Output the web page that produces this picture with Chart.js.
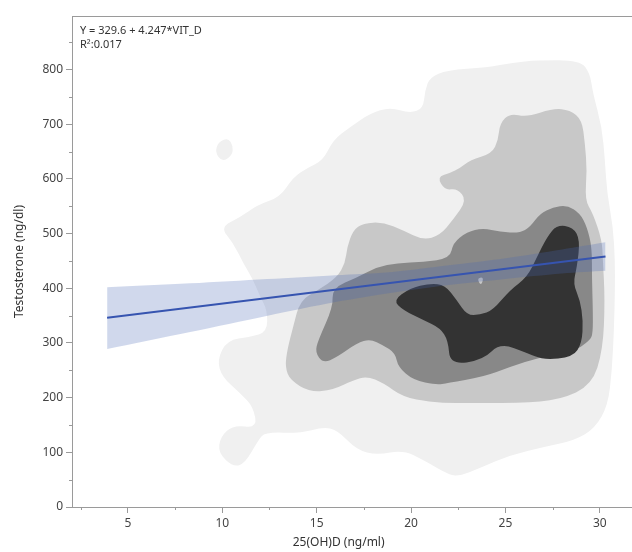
<!DOCTYPE html>
<html>
<head>
<meta charset="utf-8">
<script src="https://cdn.jsdelivr.net/npm/chart.js@4.4.1/dist/chart.umd.min.js"></script>
<style>
  html, body { margin: 0; padding: 0; background: #fff; }
  #wrap { width: 632px; height: 552px; }
</style>
</head>
<body>
<div id="wrap"><canvas id="chart"></canvas></div>
<script>
// ticks
const xMajorTicks = [5, 10, 15, 20, 25, 30];
const xMinorTicks = [2.5, 7.5, 12.5, 17.5, 22.5, 27.5];
const yMajorTicks = [0, 100, 200, 300, 400, 500, 600, 700, 800];
const yMinorTicks = [50, 150, 250, 350, 450, 550, 650, 750, 850];

// fitted line Y = 329.6 + 4.247*VIT_D, drawn over the data range
const fitX = [3.9, 30.3];
const fitY = [346, 458];

// confidence band
const bandX     = [3.9, 8.3, 12.4, 16.0, 19.0, 22.0, 25.0, 28.0, 30.3];
const bandUpper = [402, 409, 417, 424, 430, 442, 455, 471, 484];
const bandLower = [289, 320, 350, 375, 392, 406, 417, 427, 432];

// density contours, [vit_d, testosterone] vertices
const contourLight = [
  [9.89,512],[10.95,530],[11.85,552],[13.06,567],[13.75,603],[14.49,620],[15.34,634],
  [15.87,671],[16.77,695],[17.84,720],[18.89,731],[19.95,720],[20.64,729],[20.74,762],
  [21.0,786],[21.91,799],[24.02,804],[25.4,813],[26.67,817],[28.95,817],[29.48,793],
  [29.63,757],[30.11,695],[30.27,634],[30.38,574],[30.7,512],[30.8,452],[30.8,397],
  [30.75,324],[30.64,250],[30.43,186],[29.74,144],[28.68,122],[27.09,110],[25.24,95],
  [23.65,71],[22.59,57],[22.07,58],[20.64,86],[19.58,104],[18.2,95],[17.14,104],
  [16.08,141],[15.34,146],[14.12,135],[12.27,137],[11.9,122],[11.21,80],[10.58,73],
  [9.79,99],[9.89,128],[10.58,150],[11.85,144],[11.64,183],[10.95,208],[9.99,238],
  [9.73,269],[10.26,305],[11.48,311],[12.38,320],[12.38,360],[12.01,384],[11.64,415],
  [11.11,446],[10.58,483]
];
const contourLightIsle = [[9.79,667],[10.31,675],[10.58,660],[10.52,643],[9.99,631],[9.62,649]];
const contourMid = [
  [13.33,256],[13.44,287],[13.75,329],[14.12,378],[15.08,397],[16.08,420],[16.51,446],
  [16.61,475],[16.93,506],[17.46,519],[18.52,521],[19.58,506],[20.64,488],[21.54,497],
  [22.22,525],[22.96,561],[22.43,583],[21.8,579],[21.38,603],[22.07,611],[22.59,620],
  [23.12,634],[24.29,647],[24.61,671],[24.71,702],[25.24,720],[26.14,713],[27.52,729],
  [28.42,726],[29.05,708],[29.21,665],[29.32,616],[29.21,561],[29.63,537],[30.11,488],
  [30.16,452],[30.27,378],[30.16,287],[29.58,223],[27.89,196],[25.77,190],[22.07,190],
  [21.0,192],[19.58,201],[18.52,227],[17.67,239],[16.93,232],[15.87,214],[14.65,210],
  [13.59,232]
];
const contourHigh = [
  [15.87,366],[15.82,400],[17.14,420],[18.2,439],[19.26,446],[20.64,448],[22.07,455],
  [22.22,483],[22.96,503],[23.81,510],[24.71,503],[25.77,501],[26.3,512],[26.83,537],
  [27.52,548],[28.26,552],[28.95,537],[29.32,512],[29.58,475],[29.58,420],[29.63,360],
  [29.63,318],[29.48,305],[28.58,283],[26.83,274],[25.24,256],[23.81,238],[21.91,227],
  [21.38,223],[20.11,232],[19.32,256],[19.15,282],[18.52,296],[17.84,307],[17.14,300],
  [16.08,274],[15.34,263],[14.92,283],[15.08,305]
];
const contourHighHole = [[23.49,419],[23.86,420],[23.7,404]];
const contourPeak = [
  [19.05,378],[19.95,400],[21.0,409],[21.8,406],[22.43,378],[22.96,351],[23.65,351],
  [24.34,360],[25.24,397],[26.14,420],[26.67,457],[27.2,494],[27.73,516],[28.58,512],
  [28.95,488],[28.79,439],[28.58,409],[28.95,378],[29.11,342],[29.05,300],[28.58,274],
  [26.99,269],[26.14,282],[24.71,300],[23.81,269],[22.07,260],[21.96,305],[21.54,327],
  [20.64,342],[19.58,360]
];

const contourLayers = [
  { polys: [contourLight, contourLightIsle], color: '#f0f0f0' },
  { polys: [contourMid], color: '#c8c8c8' },
  { polys: [contourHigh], color: '#888888' },
  { polys: [contourHighHole], color: '#c8c8c8' },
  { polys: [contourPeak], color: '#333333' }
];

const toPoints = (xs, ys) => xs.map((x, i) => ({ x: x, y: ys[i] }));

function tracePolygon(ctx, pts) {
  const n = pts.length;
  const mid = i => {
    const a = pts[i], b = pts[(i + 1) % n];
    return [(a[0] + b[0]) / 2, (a[1] + b[1]) / 2];
  };
  const start = mid(n - 1);
  ctx.moveTo(start[0], start[1]);
  for (let i = 0; i < n; i++) {
    const m = mid(i);
    ctx.quadraticCurveTo(pts[i][0], pts[i][1], m[0], m[1]);
  }
  ctx.closePath();
}

const contourPlugin = {
  id: 'contours',
  beforeDatasetsDraw(chart) {
    const { ctx, chartArea, scales } = chart;
    ctx.save();
    ctx.beginPath();
    ctx.rect(chartArea.left, chartArea.top, chartArea.right - chartArea.left, chartArea.bottom - chartArea.top);
    ctx.clip();
    contourLayers.forEach(layer => {
      ctx.fillStyle = layer.color;
      layer.polys.forEach(poly => {
        const pts = poly.map(p => [scales.x.getPixelForValue(p[0]), scales.y.getPixelForValue(p[1])]);
        ctx.beginPath();
        tracePolygon(ctx, pts);
        ctx.fill();
      });
    });
    ctx.restore();
  }
};

const framePlugin = {
  id: 'frame',
  afterDraw(chart) {
    const { ctx, chartArea, scales } = chart;
    ctx.save();
    ctx.strokeStyle = '#9a9a9a';
    ctx.lineWidth = 1;
    ctx.beginPath();
    ctx.moveTo(chartArea.left, chartArea.top + 0.5);
    ctx.lineTo(chart.width, chartArea.top + 0.5);
    xMinorTicks.forEach(v => {
      const px = Math.round(scales.x.getPixelForValue(v)) + 0.5;
      ctx.moveTo(px, chartArea.bottom);
      ctx.lineTo(px, chartArea.bottom + 3);
    });
    yMinorTicks.forEach(v => {
      const py = Math.round(scales.y.getPixelForValue(v)) + 0.5;
      ctx.moveTo(chartArea.left - 3, py);
      ctx.lineTo(chartArea.left, py);
    });
    ctx.stroke();

    ctx.fillStyle = '#333';
    ctx.font = "11px 'Noto Sans', sans-serif";
    ctx.textBaseline = 'middle';
    ctx.fillText('Y = 329.6 + 4.247*VIT_D', chartArea.left + 8, chartArea.top + 15);
    ctx.fillText('R\u00B2:0.017', chartArea.left + 8, chartArea.top + 29);

    // x axis title, sits a little left of the axis middle as in the source plot
    ctx.font = "12px 'Noto Sans', sans-serif";
    ctx.textAlign = 'center';
    ctx.fillText('25(OH)D (ng/ml)', chartArea.left + (chartArea.right - chartArea.left) * 0.477, chart.height - 9);
    ctx.restore();
  }
};

Chart.defaults.font.family = "'Noto Sans', sans-serif";

const ctx = document.getElementById('chart').getContext('2d');
const chart = new Chart(ctx, {
  type: 'line',
  data: {
    datasets: [
      {
        label: 'Fit',
        data: toPoints(fitX, fitY),
        borderColor: '#3654b0',
        borderWidth: 2,
        pointRadius: 0,
        fill: false
      },
      {
        label: 'Upper',
        data: toPoints(bandX, bandUpper),
        borderWidth: 0,
        borderColor: 'rgba(0,0,0,0)',
        pointRadius: 0,
        tension: 0.3,
        backgroundColor: 'rgba(72,104,180,0.26)',
        fill: '+1'
      },
      {
        label: 'Lower',
        data: toPoints(bandX, bandLower),
        borderWidth: 0,
        borderColor: 'rgba(0,0,0,0)',
        pointRadius: 0,
        tension: 0.3,
        fill: false
      }
    ]
  },
  options: {
    responsive: true,
    maintainAspectRatio: false,
    animation: false,
    layout: { padding: { top: 16, right: 1, left: 0, bottom: 0 } },
    plugins: {
      legend: { display: false },
      tooltip: { enabled: false }
    },
    scales: {
      x: {
        type: 'linear',
        min: 2.04,
        max: 31.65,
        afterBuildTicks: scale => { scale.ticks = xMajorTicks.map(v => ({ value: v })); },
        afterFit: scale => { scale.height = 45; },
        ticks: { font: { size: 12 }, color: '#444', padding: 3, maxRotation: 0, autoSkip: false },
        grid: { display: true, drawOnChartArea: false, drawTicks: true, tickLength: 6, color: '#9a9a9a' },
        border: { display: true, color: '#9a9a9a' },
        title: { display: false }
      },
      y: {
        min: 0,
        max: 898,
        afterBuildTicks: scale => { scale.ticks = yMajorTicks.map(v => ({ value: v })); },
        afterFit: scale => { scale.width = 72; },
        ticks: { font: { size: 12 }, color: '#444', padding: 3, autoSkip: false },
        grid: { display: true, drawOnChartArea: false, drawTicks: true, tickLength: 6, color: '#9a9a9a' },
        border: { display: true, color: '#9a9a9a' },
        title: { display: true, text: 'Testosterone (ng/dl)', font: { size: 12 }, color: '#333', padding: { top: 12, bottom: 4 } }
      }
    }
  },
  plugins: [contourPlugin, framePlugin]
});
</script>
</body>
</html>
